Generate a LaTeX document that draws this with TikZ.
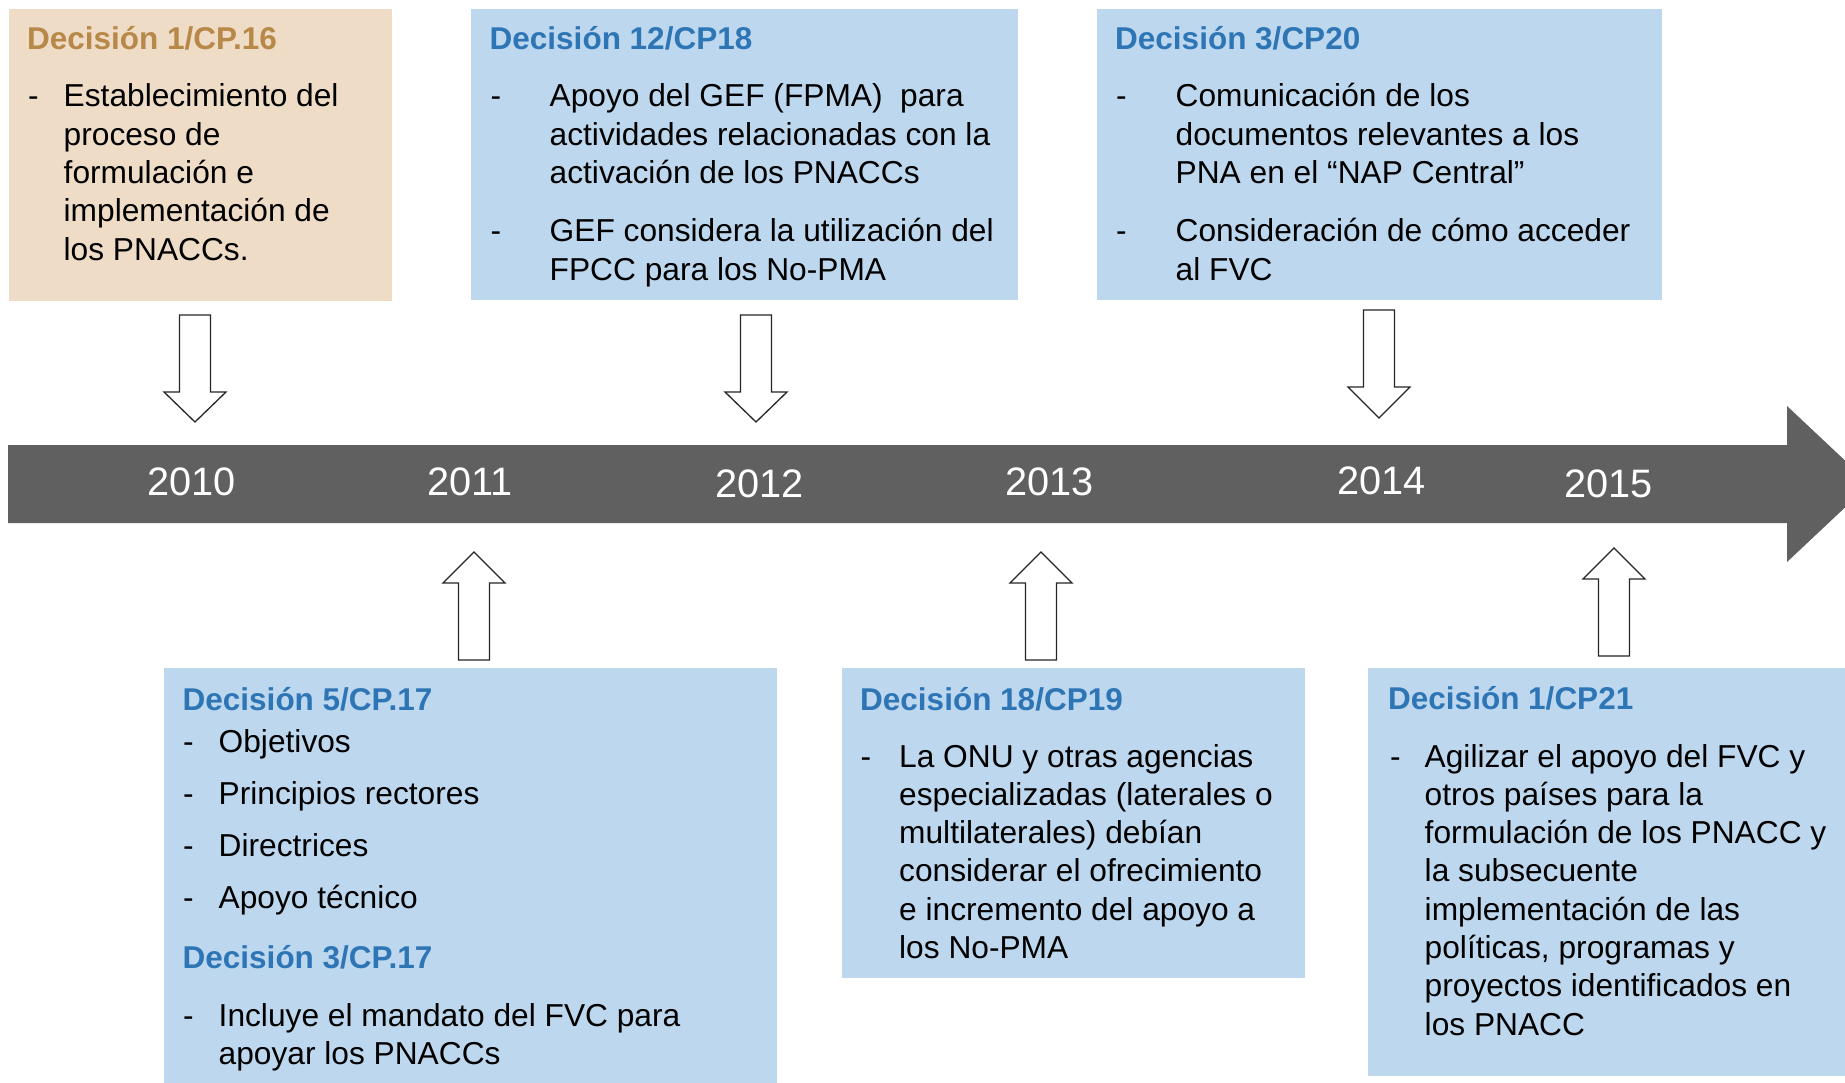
\documentclass[tikz,border=0pt]{standalone}
\usepackage{fontspec}
\setmainfont{Liberation Sans}
\definecolor{tanfill}{RGB}{238,220,198}
\definecolor{tantitle}{RGB}{183,136,72}
\definecolor{bluefill}{RGB}{189,215,238}
\definecolor{bluetitle}{RGB}{46,117,182}
\definecolor{bandgray}{RGB}{96,96,96}
\newcommand\hollowarrow[4]{%
  \draw[blockarrow] (#1-15.5,#2) -- (#1+15.5,#2) -- (#1+15.5,#3) -- (#1+31,#3)
    -- (#1,#4) -- (#1-31,#3) -- (#1-15.5,#3) -- cycle;}
\newcommand\mlines[1]{\begin{tabular}[t]{@{}l@{}}#1\end{tabular}}
\begin{document}
\begin{tikzpicture}[x=1pt,y=-1pt,
  boxbase/.style={draw=none, inner sep=0pt, outer sep=0pt, anchor=north west},
  tanbox/.style={boxbase, fill=tanfill},
  bluebox/.style={boxbase, fill=bluefill},
  body/.style={font=\fontsize{31.7}{38.3}\selectfont, anchor=base west, inner sep=0pt, text=black},
  ttl/.style={font=\fontsize{31.5}{38}\selectfont\bfseries, anchor=base west, inner sep=0pt},
  tanttl/.style={ttl, text=tantitle},
  bluettl/.style={ttl, text=bluetitle},
  yr/.style={font=\fontsize{39.7}{44}\selectfont, text=white, anchor=base west, inner sep=0pt},
  blockarrow/.style={draw=black!85, fill=white, line width=1.3pt, line join=miter}]
\useasboundingbox (0,0) rectangle (1845,1083);
\clip (0,0) rectangle (1845,1083);
\fill[white] (0,0) rectangle (1845,1083);

% boxes
\node[tanbox,  minimum width=383pt, minimum height=292pt] (b1) at (9,9) {};
\node[bluebox, minimum width=547pt, minimum height=291pt] (b2) at (471,9) {};
\node[bluebox, minimum width=565pt, minimum height=291pt] (b3) at (1097,9) {};
\node[bluebox, minimum width=613pt, minimum height=420pt] (b4) at (164,668) {};
\node[bluebox, minimum width=463pt, minimum height=310pt] (b5) at (842,668) {};
\node[bluebox, minimum width=480pt, minimum height=408pt] (b6) at (1368,668) {};

% timeline band
\fill[bandgray] (8,445) -- (1787,445) -- (1787,406) -- (1870,484) -- (1787,562)
  -- (1787,523) -- (8,523) -- cycle;
\node[yr] (y10) at (147,495) {2010};
\node[yr] (y11) at (427,495) {2011};
\node[yr] (y12) at (715,497.5) {2012};
\node[yr] (y13) at (1005,495) {2013};
\node[yr] (y14) at (1337,494.5) {2014};
\node[yr] (y15) at (1564,497.5) {2015};

% block arrows
\hollowarrow{195}{315}{392}{422}
\hollowarrow{756}{315}{392}{422}
\hollowarrow{1379}{310}{387}{418}
\hollowarrow{474}{660}{583}{552}
\hollowarrow{1041}{660}{583}{552}
\hollowarrow{1614}{656}{579}{548}

% box 1
\node[tanttl] (t1) at (27,50) {Decisión 1/CP.16};
\node[body] (d1) at (28,107) {-};
\node[body] (p1) at (63.5,107) {\mlines{Establecimiento del\\proceso de\\formulación e\\implementación de\\los PNACCs.}};

% box 2
\node[bluettl] (t2) at (489.5,50) {Decisión 12/CP18};
\node[body] (d2a) at (490.5,107) {-};
\node[body] (p2a) at (549.5,107) {\mlines{Apoyo del GEF (FPMA)\ \ para\\actividades relacionadas con la\\activación de los PNACCs}};
\node[body] (d2b) at (490.5,242) {-};
\node[body] (p2b) at (549.5,242) {\mlines{GEF considera la utilización del\\FPCC para los No-PMA}};

% box 3
\node[bluettl] (t3) at (1115,50) {Decisión 3/CP20};
\node[body] (d3a) at (1116,107) {-};
\node[body] (p3a) at (1175.5,107) {\mlines{Comunicación de los\\documentos relevantes a los\\PNA en el “NAP Central”}};
\node[body] (d3b) at (1116,242) {-};
\node[body] (p3b) at (1175.5,242) {\mlines{Consideración de cómo acceder\\al FVC}};

% box 4
\node[bluettl] (t4) at (182.5,710) {Decisión 5/CP.17};
\node[body] (d4a) at (183,752) {-};
\node[body] (p4a) at (218.5,752) {Objetivos};
\node[body] (d4b) at (183,804) {-};
\node[body] (p4b) at (218.5,804) {Principios rectores};
\node[body] (d4c) at (183,856.5) {-};
\node[body] (p4c) at (218.5,856.5) {Directrices};
\node[body] (d4d) at (183,908.5) {-};
\node[body] (p4d) at (218.5,908.5) {Apoyo técnico};
\node[bluettl] (t4b) at (182.5,968) {Decisión 3/CP.17};
\node[body] (d4e) at (183,1026) {-};
\node[body] (p4e) at (218.5,1026) {\mlines{Incluye el mandato del FVC para\\apoyar los PNACCs}};

% box 5
\node[bluettl] (t5) at (860,710) {Decisión 18/CP19};
\node[body] (d5) at (860.5,767) {-};
\node[body] (p5) at (899,767) {\mlines{La ONU y otras agencias\\especializadas (laterales o\\multilaterales) debían\\considerar el ofrecimiento\\e incremento del apoyo a\\los No-PMA}};

% box 6
\node[bluettl] (t6) at (1388,709) {Decisión 1/CP21};
\node[body] (d6) at (1390,767) {-};
\node[body] (p6) at (1424.5,767) {\mlines{Agilizar el apoyo del FVC y\\otros países para la\\formulación de los PNACC y\\la subsecuente\\implementación de las\\políticas, programas y\\proyectos identificados en\\los PNACC}};
\end{tikzpicture}
\end{document}
